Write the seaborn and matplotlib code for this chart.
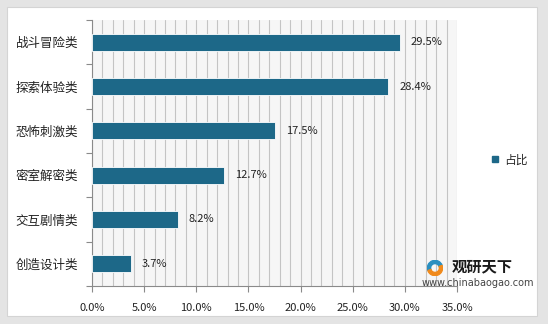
import matplotlib
matplotlib.use("Agg")
import matplotlib.pyplot as plt
from matplotlib.patches import Rectangle, Wedge
from matplotlib.lines import Line2D
from matplotlib.ticker import MultipleLocator, FixedLocator
import seaborn as sns
import pandas as pd

categories = ["战斗冒险类", "探索体验类", "恐怖刺激类", "密室解密类", "交互剧情类", "创造设计类"]
shares = [29.5, 28.4, 17.5, 12.7, 8.2, 3.7]
series_name = "占比"
x_ticks = [0, 5, 10, 15, 20, 25, 30, 35]

sns.set_theme(style="white")
plt.rcParams["font.family"] = ["Noto Sans CJK SC", "DejaVu Sans"]

df = pd.DataFrame({"类别": categories, series_name: shares})

fig = plt.figure(figsize=(5.48, 3.24), dpi=100)
fig.patch.set_facecolor("#e4e4e4")
# white card with soft edge
fig.patches.append(Rectangle((7 / 548, 8 / 324), 530 / 548, 309 / 324,
                             transform=fig.transFigure, facecolor="white",
                             edgecolor="#d4d4d4", linewidth=0.8, zorder=-10))

ax = fig.add_axes([92 / 548, 38 / 324, 365 / 548, 266 / 324])
bar_color = "#1d6888"
sns.barplot(data=df, y="类别", x=series_name, orient="h", color=bar_color,
            saturation=1, width=0.38, edgecolor="white", linewidth=0.6,
            ax=ax, zorder=3)

ax.set_facecolor("#f6f6f6")
ax.set_xlim(0, 35)
ax.set_ylim(len(categories) - 0.5, -0.5)
ax.xaxis.set_minor_locator(MultipleLocator(1))
ax.xaxis.set_major_locator(FixedLocator(x_ticks))
ax.grid(which="both", axis="x", color="#c4c4c4", linewidth=0.8, zorder=0)
ax.set_axisbelow(True)
ax.set_xticklabels([f"{v:.1f}%" for v in x_ticks], fontsize=8, color="#222222")
ax.tick_params(axis="x", which="major", length=4, width=0.8, color="#8a8a8a",
               direction="out", bottom=True, pad=8)
ax.tick_params(axis="x", which="minor", length=0)

ax.set_yticks(range(len(categories)))
ax.set_yticklabels(categories, fontsize=9, color="#222222")
ax.yaxis.set_minor_locator(FixedLocator([i - 0.5 for i in range(len(categories) + 1)]))
ax.tick_params(axis="y", which="major", length=0, pad=10)
ax.tick_params(axis="y", which="minor", length=4, width=0.8, color="#8a8a8a",
               direction="out", left=True)
ax.set_xlabel("")
ax.set_ylabel("")

for side in ["top", "right"]:
    ax.spines[side].set_visible(False)
for side in ["left", "bottom"]:
    ax.spines[side].set_color("#8a8a8a")
    ax.spines[side].set_linewidth(0.8)

for i, v in enumerate(shares):
    ax.annotate(f"{v}%", xy=(v, i), xytext=(8, 0), textcoords="offset points",
                va="center", ha="left", fontsize=8, color="#222222")

# legend
handle = Line2D([], [], marker="s", linestyle="none", markersize=4,
                markerfacecolor=bar_color, markeredgecolor=bar_color)
fig.legend([handle], [series_name], loc="center left",
           bbox_to_anchor=(486 / 548, 1 - 160 / 324), frameon=False,
           fontsize=8.5, handletextpad=0.3, borderaxespad=0, handlelength=0.8)

# watermark
fig.text(452 / 548, 1 - 266 / 324, "观研天下", fontsize=11, fontweight="black",
         color="#1a1a1a", ha="left", va="center")
fig.text(478 / 548, 1 - 283 / 324, "www.chinabaogao.com", fontsize=7,
         color="#444444", ha="center", va="center", family=["DejaVu Sans"])
logo = fig.add_axes([426 / 548, 1 - 276 / 324, 18 / 548, 16 / 324])
logo.set_xlim(-1, 1)
logo.set_ylim(-1, 1)
logo.set_aspect("equal")
logo.axis("off")
logo.add_patch(Wedge((0, 0), 0.95, 20, 200, width=0.4, color="#2a8fc0"))
logo.add_patch(Wedge((0, 0), 0.95, 200, 380, width=0.4, color="#f08a1c"))

fig.savefig("out.png", dpi=100)
